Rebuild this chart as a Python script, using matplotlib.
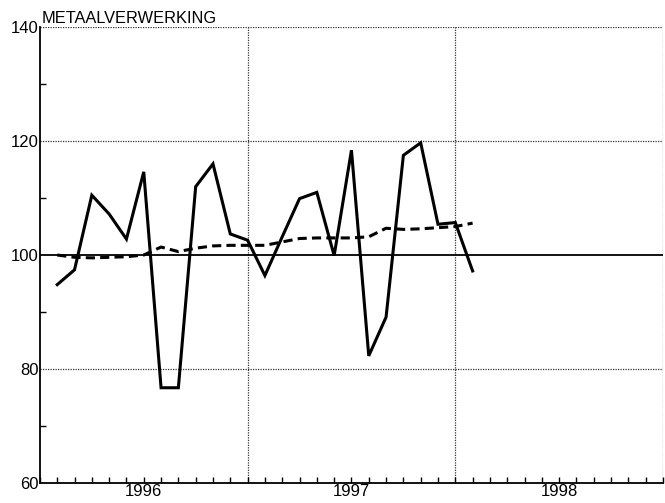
import matplotlib
matplotlib.use("Agg")
import matplotlib.pyplot as plt
import numpy as np

plt.rcParams["font.family"] = ["Liberation Sans", "DejaVu Sans"]

# maanden vanaf jan 1996 (1 = eind januari 1996)
maanden = list(range(1, 26))

# metaalverwerking, maandcijfers (1995 = 100)
metaal = [94.8, 97.4, 110.5, 107.2, 102.8, 114.6, 76.7, 76.7, 112.0, 116.0,
          103.7, 102.6, 96.4, 103.2, 109.9, 111.0, 99.9, 118.4, 82.3, 89.1,
          117.5, 119.7, 105.4, 105.7, 97.2]

# trend (gestippeld)
trend = [100.0, 99.6, 99.5, 99.6, 99.7, 100.0, 101.4, 100.6, 101.2, 101.6,
         101.7, 101.7, 101.7, 102.3, 102.9, 103.0, 103.0, 103.0, 103.2, 104.7,
         104.5, 104.6, 104.8, 105.0, 105.6]

jaren = ["1996", "1997", "1998"]
jaar_pos = [6, 18, 30]

fig = plt.figure(figsize=(6.65, 5.03), dpi=100)
ax = fig.add_axes([0.060, 0.040, 0.937, 0.906])

# rasterlijnen
for yv in [80, 120, 140]:
    ax.axhline(yv, color="#333333", lw=0.9, ls=(0, (1, 1)), zorder=1)
for xv in [12, 24, 36]:
    ax.axvline(xv, color="#333333", lw=0.9, ls=(0, (1, 1)), zorder=1)
ax.axhline(100, color="black", lw=1.3, zorder=2)

ax.plot(maanden, trend, color="black", lw=2.2, ls=(0, (3, 1.7)), zorder=3)
ax.plot(maanden, metaal, color="black", lw=2.2, solid_joinstyle="miter", zorder=4)

ax.set_xlim(0, 36)
ax.set_ylim(60, 140)

for s in ["top", "right"]:
    ax.spines[s].set_visible(False)
ax.spines["left"].set_linewidth(1.3)
ax.spines["bottom"].set_linewidth(1.3)

ax.xaxis.remove_overlapping_locs = False
ax.set_xticks(np.arange(0, 37, 1))
ax.set_xticklabels([])
ax.tick_params(axis="x", which="major", direction="in", length=4, width=1)
ax.set_xticks(jaar_pos, minor=True)
ax.set_xticklabels(jaren, minor=True, fontsize=12)
ax.tick_params(axis="x", which="minor", length=0, pad=1)

ax.set_yticks([60, 80, 100, 120, 140])
ax.set_yticklabels(["60", "80", "100", "120", "140"], fontsize=12)
ax.set_yticks([70, 90, 110, 130], minor=True)
ax.tick_params(axis="y", which="major", direction="in", length=0, pad=1)
ax.tick_params(axis="y", which="minor", direction="in", length=4, width=1)

ax.text(0.002, 1.002, "METAALVERWERKING", transform=ax.transAxes,
        fontsize=11.8, ha="left", va="bottom")

fig.savefig("out.png", dpi=100)
